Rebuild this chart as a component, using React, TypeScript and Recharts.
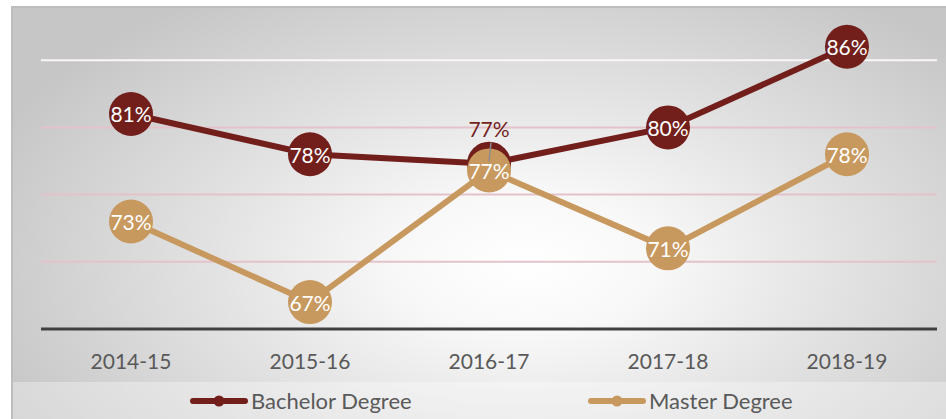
import React from "react";
import {
  CartesianGrid,
  LabelList,
  Line,
  LineChart,
  ReferenceLine,
  XAxis,
  YAxis,
} from "recharts";

// Graduation rate by academic year, two degree levels (values in %)
const years = ["2014-15", "2015-16", "2016-17", "2017-18", "2018-19"];
const bachelorRates = [81, 78, 77.3, 80, 86];
const masterRates = [73, 67, 76.8, 71, 78];
const gridValues = [70, 75, 80];
const topGridValue = 85;
const yDomain: [number, number] = [65, 90];

const BACHELOR = "#721f1c";
const MASTER = "#c8995f";
const FONT = "Lato, 'Open Sans', sans-serif";

const data = years.map((year, i) => ({
  year,
  bachelor: bachelorRates[i],
  master: masterRates[i],
}));

interface LabelProps {
  x?: number;
  y?: number;
  value?: number;
  index?: number;
}

/** White % text centred in the marker; the overlapping 2016-17 bachelor value sits above. */
function PointLabel({
  x = 0,
  y = 0,
  value,
  index,
  liftIndex,
  color,
}: LabelProps & { liftIndex?: number; color: string }) {
  const text = `${Math.round(Number(value))}%`;
  if (index === liftIndex) {
    return (
      <g>
        <line x1={x + 2} y1={y - 21} x2={x} y2={y - 2} stroke="#8c8c8c" strokeWidth={1.5} />
        <text
          x={x}
          y={y - 35}
          fill={color}
          fontSize={21}
          fontFamily={FONT}
          textAnchor="middle"
          dominantBaseline="central"
        >
          {text}
        </text>
      </g>
    );
  }
  return (
    <text
      x={x}
      y={y}
      fill="#ffffff"
      fontSize={21}
      fontFamily={FONT}
      textAnchor="middle"
      dominantBaseline="central"
    >
      {text}
    </text>
  );
}

function LegendItem({ left, color, label }: { left: number; color: string; label: string }) {
  return (
    <div
      style={{
        position: "absolute",
        left,
        top: 0,
        height: 37,
        display: "flex",
        alignItems: "center",
      }}
    >
      <svg width={58} height={14} style={{ display: "block" }}>
        <line x1={3} y1={7} x2={55} y2={7} stroke={color} strokeWidth={6} strokeLinecap="round" />
        <circle cx={29} cy={7} r={5.5} fill={color} />
      </svg>
      <span
        style={{
          marginLeft: 3,
          fontFamily: FONT,
          fontSize: 22,
          color: "#595959",
          lineHeight: "37px",
        }}
      >
        {label}
      </span>
    </div>
  );
}

export default function App() {
  return (
    <div
      style={{
        position: "absolute",
        left: 0,
        top: 0,
        width: 946,
        height: 419,
        overflow: "hidden",
        background: "#ffffff",
      }}
    >
      {/* chart frame with a soft radial light */}
      <div
        style={{
          position: "absolute",
          left: 11,
          top: 6,
          width: 935,
          height: 413,
          boxSizing: "border-box",
          borderLeft: "2px solid #bdbdbd",
          borderTop: "2px solid #bdbdbd",
          background:
            "radial-gradient(ellipse 62% 78% at 55% 62%, #ffffff 0%, #f8f8f8 22%, #e2e2e2 55%, #c6c6c6 100%)",
        }}
      />
      {/* legend band */}
      <div
        style={{
          position: "absolute",
          left: 13,
          top: 382,
          width: 933,
          height: 37,
          background: "rgba(255,255,255,0.32)",
        }}
      >
        <LegendItem left={177} color={BACHELOR} label="Bachelor Degree" />
        <LegendItem left={575} color={MASTER} label="Master Degree" />
      </div>

      <div style={{ position: "absolute", left: 0, top: -20 }}>
        <LineChart
          width={946}
          height={400}
          data={data}
          margin={{ top: 13, right: 9, bottom: 11, left: 41 }}
        >
          <CartesianGrid
            vertical={false}
            horizontalValues={gridValues}
            stroke="#e3c3c9"
            strokeWidth={2}
          />
          <ReferenceLine y={topGridValue} stroke="#fbf6f7" strokeWidth={2} />
          <XAxis
            dataKey="year"
            height={40}
            padding={{ left: 90, right: 90 }}
            tickLine={false}
            tickSize={0}
            tickMargin={25}
            axisLine={{ stroke: "#404040", strokeWidth: 3 }}
            tick={{ fill: "#595959", fontSize: 21, fontFamily: FONT }}
          />
          <YAxis hide domain={yDomain} ticks={[65, 70, 75, 80, 85, 90]} />
          <Line
            dataKey="bachelor"
            stroke={BACHELOR}
            strokeWidth={6}
            dot={{ r: 22, fill: BACHELOR, stroke: BACHELOR, strokeWidth: 0 }}
            isAnimationActive={false}
          >
            <LabelList
              dataKey="bachelor"
              content={(p: LabelProps) => <PointLabel {...p} liftIndex={2} color={BACHELOR} />}
            />
          </Line>
          <Line
            dataKey="master"
            stroke={MASTER}
            strokeWidth={6}
            dot={{ r: 22, fill: MASTER, stroke: MASTER, strokeWidth: 0 }}
            isAnimationActive={false}
          >
            <LabelList
              dataKey="master"
              content={(p: LabelProps) => <PointLabel {...p} color={MASTER} />}
            />
          </Line>
        </LineChart>
      </div>
    </div>
  );
}
